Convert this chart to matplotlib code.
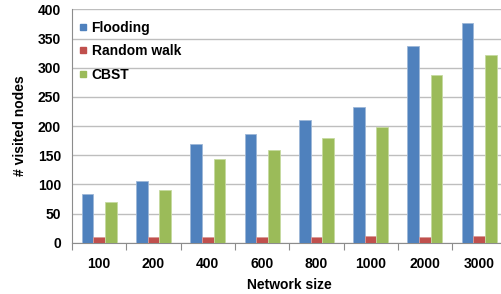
import numpy as np
import matplotlib.pyplot as plt
from matplotlib.lines import Line2D

# Dados
sizes = ['100', '200', '400', '600', '800', '1000', '2000', '3000']
flooding = [84, 106, 169, 186, 210, 232, 337, 376]
random_walk = [10, 10, 9, 9, 10, 11, 10, 11]
cbst = [70, 90, 143, 159, 180, 199, 287, 322]

plt.rcParams['font.family'] = ['Liberation Sans', 'DejaVu Sans']
plt.rcParams['font.weight'] = 'bold'

fig = plt.figure(figsize=(5.01, 2.94), dpi=100)
ax = fig.add_axes([0.1437, 0.1745, 0.8671, 0.7935])

x = np.arange(len(sizes))
w = 0.215
colors = ['#4F81BD', '#C0504D', '#9BBB59']
edges = ['#9DB7D8', '#DA9A98', '#C6DAA0']
series = [('Flooding', flooding), ('Random walk', random_walk), ('CBST', cbst)]
for i, (name, vals) in enumerate(series):
    ax.bar(x + (i - 1) * w, vals, w, color=colors[i], edgecolor=edges[i],
           linewidth=0.6, label=name, zorder=3)

ax.set_xlim(-0.5, len(sizes) - 0.5)
ax.set_ylim(0, 400)
ax.set_yticks(range(0, 401, 50))
ax.yaxis.grid(True, color='#BEBEBE', linewidth=1.0, zorder=0)
ax.set_xticks(x)
ax.set_xticklabels(sizes)
ax.set_xticks(np.arange(-0.5, len(sizes), 1), minor=True)
ax.tick_params(axis='x', which='major', length=0, pad=10, labelsize=10)
ax.tick_params(axis='x', which='minor', length=5, color='#8C8C8C', width=0.8)
ax.tick_params(axis='y', length=0, pad=8, labelsize=10)

for s in ['top', 'right']:
    ax.spines[s].set_visible(False)
for s in ['left', 'bottom']:
    ax.spines[s].set_color('#8C8C8C')
    ax.spines[s].set_linewidth(0.8)

ax.set_xlabel('Network size', fontsize=10, fontweight='bold', labelpad=5)
ax.set_ylabel('# visited nodes', fontsize=10, fontweight='bold', labelpad=8)

handles = [Line2D([], [], marker='s', linestyle='', markersize=4.5,
                  markerfacecolor=c, markeredgecolor=c) for c in colors]
ax.legend(handles, [s[0] for s in series], loc='upper left', frameon=False,
          fontsize=10, handlelength=0.5, handletextpad=0.35, labelspacing=0.68,
          bbox_to_anchor=(0.005, 0.975), borderaxespad=0.0)

fig.savefig('out.png', dpi=100)
